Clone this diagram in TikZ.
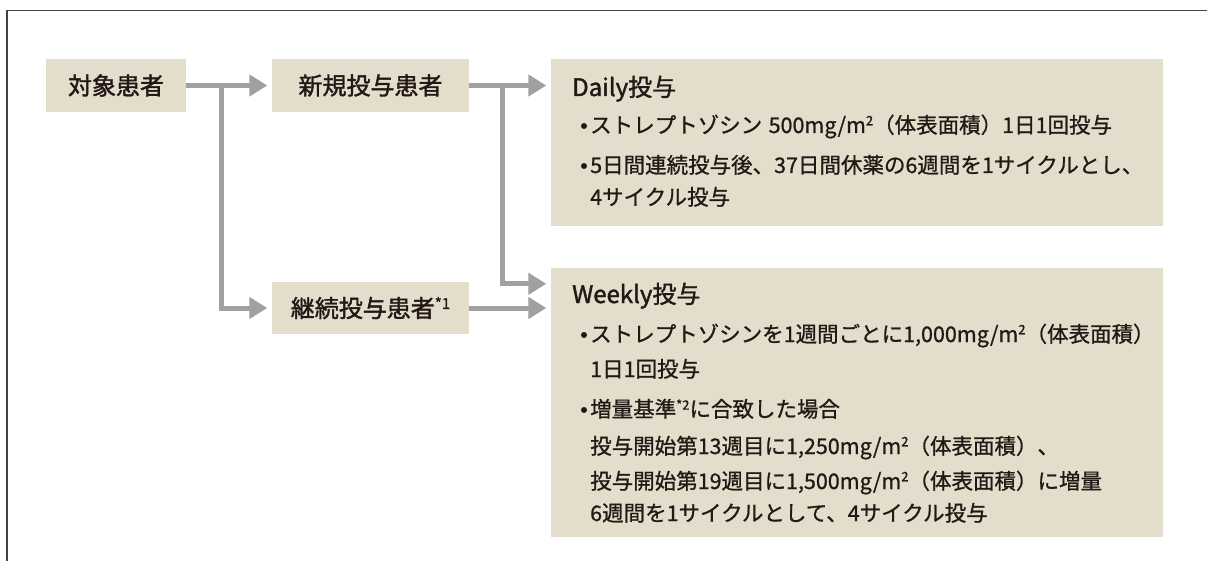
\documentclass[tikz,border=0pt]{standalone}
\usepackage{fontspec}
\setmainfont{Noto Sans CJK JP}[FakeBold=0.9]
\newfontfamily\lblfont{Noto Sans CJK JP}[FakeBold=1.6]
\usetikzlibrary{arrows.meta,calc}
\definecolor{boxfill}{RGB}{227,221,203}
\definecolor{arrgray}{RGB}{160,160,160}
\definecolor{txt}{RGB}{35,24,21}
\definecolor{framecol}{RGB}{72,66,66}
\newcommand\sqr{\raisebox{0.36em}{\fontsize{13}{13}\selectfont 2}}
\newcommand\astr[2]{\raisebox{0.34em}{\fontsize{#2}{#2}\selectfont *#1}}
\begin{document}
\begin{tikzpicture}[x=1pt,y=-1pt,
  lblbox/.style={fill=boxfill, inner sep=0pt, text=txt, font=\lblfont\fontsize{24}{24}\selectfont},
  bigbox/.style={fill=boxfill, inner sep=0pt},
  conn/.style={draw=arrgray, line width=5pt, line join=miter,
    -{Triangle[length=18pt 0 0,width=21pt 0 0]}, shorten >=4.5pt},
  ttl/.style={anchor=base west, inner sep=0pt, text=txt, font=\lblfont\fontsize{24}{24}\selectfont},
  body/.style={anchor=base west, inner sep=0pt, text=txt, font=\fontsize{21.5}{21.5}\selectfont},
  dot/.style={circle, fill=txt, inner sep=0pt, minimum size=6pt}]
\useasboundingbox (0,0) rectangle (1207,561);
\draw[framecol, line width=1.3pt] (7,561) -- (7,10.7) -- (1207,10.7);

% boxes
\node[lblbox, minimum width=140pt, minimum height=53pt] (taisho) at (116,85.5) {対象患者};
\node[lblbox, minimum width=197pt, minimum height=53pt] (shinki) at (370.5,85.5) {新規投与患者};
\node[lblbox, minimum width=197pt, minimum height=52pt] (keizoku) at (370.5,308) {継続投与患者\astr{1}{15}};
\node[bigbox, minimum width=612pt, minimum height=167pt] (daily) at (857,142.5) {};
\node[bigbox, minimum width=612pt, minimum height=269pt] (weekly) at (857,402.5) {};

% connectors
\coordinate (j1) at (221,0);
\coordinate (j2) at (502,0);
\coordinate (win) at ($(weekly.north west)+(0,16)$);
\draw[conn] (taisho.east) -- (shinki.west);
\draw[conn] (taisho.east -| j1) |- (keizoku.west);
\draw[conn] (shinki.east) -- (shinki.east -| daily.west);
\draw[conn] (shinki.east -| j2) |- (win);
\draw[conn] (keizoku.east) -- (keizoku.east -| weekly.west);

% Daily text
\node[ttl] (dtitle) at (572,96) {Daily投与};
\node[dot] (dd1) at (584,126) {};
\node[body] (dl1) at (590,133) {ストレプトゾシン\hspace{0.3em}500mg/m\sqr（体表面積）1日1回投与};
\node[dot] (dd2) at (584,166) {};
\node[body] (dl2) at (590,173) {5日間連続投与後、37日間休薬の6週間を1サイクルとし、};
\node[body] (dl3) at (590,205) {4サイクル投与};

% Weekly text
\node[ttl] (wtitle) at (572,303) {Weekly投与};
\node[dot] (wd1) at (584,335) {};
\node[body] (wl1) at (590,342) {ストレプトゾシンを1週間ごとに1,000mg/m\sqr（体表面積）};
\node[body] (wl2) at (590,377) {1日1回投与};
\node[dot] (wd2) at (584,410) {};
\node[body] (wl3) at (590,417) {増量基準\astr{2}{13}に合致した場合};
\node[body] (wl4) at (590,454) {投与開始第13週目に1,250mg/m\sqr（体表面積）、};
\node[body] (wl5) at (590,489) {投与開始第19週目に1,500mg/m\sqr（体表面積）に増量};
\node[body] (wl6) at (590,521) {6週間を1サイクルとして、4サイクル投与};
\end{tikzpicture}
\end{document}
